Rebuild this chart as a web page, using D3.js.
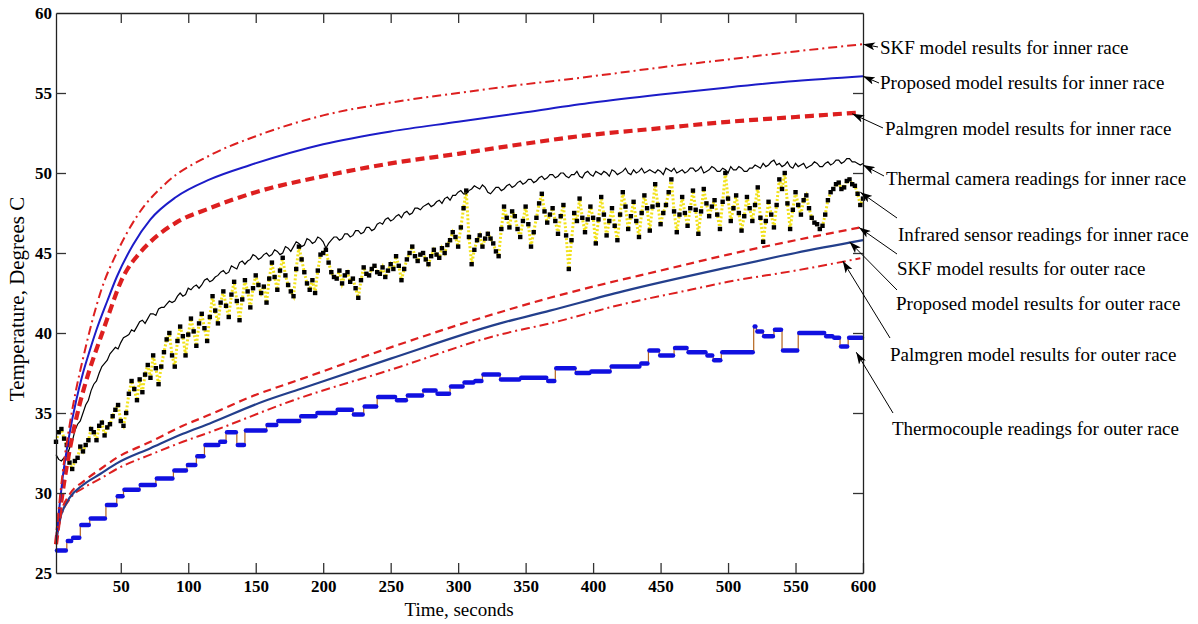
<!DOCTYPE html>
<html>
<head>
<meta charset="utf-8">
<script src="https://cdn.jsdelivr.net/npm/d3@7"></script>
<style>
  body { margin: 0; background: #fff; }
  text { font-family: "Liberation Serif", "Times New Roman", serif; }
</style>
</head>
<body>
<svg id="chart" width="1198" height="624"></svg>
<script>
// ---- Model results (time s, temperature °C) ----
const skfInnerT = [2,5,7,12,17,22,29,36,47,62,84,116,150,200,250,300,331,400,450,500,550,600];
const skfInnerV = [27,29.8,31.3,34.2,36.5,38.4,40.8,42.8,45,47.3,49.4,51.1,52.3,53.6,54.4,55.0,55.35,56.05,56.6,57.1,57.6,58.05];

const propInnerT = [2,5,7,12,17,22,27,32,40,47,59,72,91,116,146,200,250,300,350,400,450,500,550,600];
const propInnerV = [27,29.5,31,33.7,35.8,37.5,38.9,40.2,42,43.5,45.5,47.1,48.5,49.6,50.5,51.8,52.6,53.2,53.8,54.4,54.9,55.35,55.75,56.05];

const palmInnerT = [2,6,10,15,20,25,30,35,40,45,50,55,62,72,91,116,150,200,250,300,331,400,450,500,550,596];
const palmInnerV = [26.8,29.5,31.7,33.9,35.7,37.2,38.5,39.7,40.9,42.1,43.2,44.0,44.8,45.7,46.9,47.8,48.8,49.8,50.6,51.2,51.6,52.4,52.8,53.2,53.5,53.77];

const skfOuterT = [2,5,12,22,35,47,72,96,116,146,183,250,300,331,368,400,450,500,550,598];
const skfOuterV = [26.8,28.5,29.9,30.7,31.5,32.2,33.2,34.2,34.9,36.0,37.1,39.1,40.5,41.3,42.2,42.9,43.9,44.9,45.8,46.6];

const propOuterT = [2,5,8,12,22,35,47,72,96,116,155,183,250,331,368,422,500,550,600];
const propOuterV = [26.8,28.4,29.1,29.7,30.5,31.2,31.85,32.8,33.7,34.35,35.7,36.5,38.4,40.6,41.4,42.6,44.1,45.0,45.8];

const palmOuterT = [2,5,12,22,35,47,72,96,116,178,250,331,368,422,472,500,550,598];
const palmOuterV = [26.8,28.3,29.6,30.3,30.9,31.5,32.4,33.2,33.8,35.8,37.7,39.9,40.6,41.8,42.7,43.2,43.9,44.67];

// ---- Measurements, sampled every 2 s from t = 2 s (one row = 40 s) ----
const sampleStart = 2, sampleStep = 2;
const thermalCamera = [
  32.4, 32.1, 32.0, 32.2, 32.3, 32.8, 33.2, 33.9, 34.3, 34.5, 35.0, 35.5, 35.8, 36.4, 36.8, 37.0, 37.5, 37.9, 38.1, 38.3,
  38.7, 38.9, 39.1, 39.0, 39.4, 39.7, 39.8, 39.9, 40.2, 40.1, 40.4, 40.7, 40.8, 40.6, 40.9, 41.2, 41.2, 41.1, 41.5, 41.6,
  41.6, 41.8, 42.0, 41.9, 42.0, 42.3, 42.5, 42.3, 42.4, 42.8, 42.7, 42.9, 43.0, 42.8, 43.0, 43.3, 43.4, 43.2, 43.3, 43.5,
  43.6, 43.8, 43.9, 43.7, 43.8, 44.2, 44.1, 44.0, 44.4, 44.5, 44.3, 44.5, 44.6, 44.9, 44.8, 44.6, 44.7, 44.9, 45.0, 44.8,
  44.9, 45.2, 45.1, 44.9, 45.0, 45.4, 45.3, 45.1, 45.4, 45.7, 45.6, 45.4, 45.5, 45.9, 45.8, 45.6, 45.7, 46.0, 45.9, 45.7,
  45.3, 45.6, 45.8, 46.0, 46.0, 45.8, 45.9, 46.2, 46.2, 46.0, 46.1, 46.4, 46.4, 46.2, 46.3, 46.6, 46.6, 46.4, 46.5, 46.8,
  46.9, 46.8, 47.1, 47.2, 47.0, 47.1, 47.3, 47.4, 47.2, 47.5, 47.6, 47.4, 47.5, 47.8, 47.8, 47.7, 47.9, 48.0, 48.1, 47.9,
  48.0, 48.2, 48.3, 48.1, 48.4, 48.5, 48.3, 48.6, 48.6, 48.8, 48.9, 48.7, 48.7, 48.9, 49.0, 49.2, 49.1, 49.0, 49.25, 49.1,
  48.8, 48.7, 48.9, 49.1, 49.1, 48.9, 49.0, 49.2, 49.3, 49.1, 49.2, 49.4, 49.5, 49.3, 49.4, 49.6, 49.6, 49.4, 49.5, 49.7,
  49.8, 49.6, 49.7, 49.9, 49.9, 49.7, 49.8, 50.0, 50.0, 49.8, 49.7, 49.9, 49.9, 50.1, 49.8, 49.7, 50.0, 50.1, 49.9, 49.8,
  50.1, 50.0, 49.9, 50.1, 50.0, 49.8, 50.2, 50.1, 49.9, 50.0, 50.1, 50.3, 50.0, 49.9, 50.2, 50.0, 50.1, 50.3, 50.0, 50.1,
  50.2, 50.1, 50.0, 50.2, 50.1, 49.9, 50.3, 50.2, 50.1, 50.3, 50.0, 50.1, 50.2, 50.0, 50.1, 50.3, 50.3, 50.1, 50.2, 50.4,
  50.0, 50.1, 50.2, 50.4, 50.3, 50.1, 50.1, 50.3, 50.2, 50.0, 50.4, 50.2, 50.2, 50.4, 50.3, 50.1, 50.1, 50.3, 50.3, 50.5,
  50.4, 50.3, 50.6, 50.4, 50.5, 50.7, 50.8, 50.5, 50.6, 50.4, 50.5, 50.7, 50.4, 50.3, 50.6, 50.4, 50.5, 50.6, 50.3, 50.4,
  50.5, 50.7, 50.6, 50.4, 50.4, 50.6, 50.7, 50.5, 50.6, 50.8, 50.8, 50.6, 50.7, 50.9, 50.9, 50.7, 50.7, 50.6, 50.5, 50.6
];
const infraredSensor = [
  33.2, 33.8, 34.0, 33.4, 33.0, 31.9, 31.5, 32.0, 32.2, 32.9, 32.6, 33.0, 33.3, 34.0, 33.8, 33.3, 34.2, 34.4, 33.6, 34.1,
  34.3, 34.8, 35.2, 35.5, 34.5, 34.2, 35.0, 36.2, 37.0, 36.5, 35.8, 37.1, 36.3, 37.4, 38.0, 37.2, 38.6, 37.8, 36.8, 37.9,
  38.8, 39.6, 40.0, 38.6, 37.9, 39.5, 40.4, 39.8, 38.6, 39.9, 40.9, 40.1, 39.2, 40.6, 41.2, 40.3, 39.5, 41.0, 42.3, 41.4,
  40.6, 41.9, 42.6, 41.7, 41.0, 42.4, 43.2, 42.0, 40.8, 42.1, 43.3, 42.6, 41.6, 42.8, 43.6, 43.0, 42.5, 42.9, 41.9, 43.4,
  44.4, 43.5, 42.7, 43.9, 44.7, 43.6, 43.0, 42.6, 42.3, 44.0, 45.4, 44.6, 43.8, 43.1, 42.7, 43.3, 42.5, 43.9, 44.9, 45.0,
  45.2, 44.4, 43.8, 43.5, 43.4, 43.9, 43.1, 43.6, 43.8, 43.2, 43.4, 42.8, 42.2, 43.3, 44.1, 43.7, 43.6, 44.0, 44.2, 43.8,
  43.7, 44.1, 43.5, 43.9, 44.3, 44.0, 44.8, 44.2, 43.3, 44.0, 44.6, 45.0, 45.4, 44.8, 44.5, 44.9, 45.0, 44.6, 44.3, 44.8,
  45.2, 44.9, 44.7, 45.3, 45.0, 45.5, 45.8, 46.3, 46.0, 45.4, 46.6, 47.8, 48.9, 46.0, 44.3, 45.2, 45.8, 46.1, 45.4, 45.9,
  46.2, 45.9, 45.6, 45.1, 44.8, 46.5, 47.9, 47.2, 46.6, 47.6, 47.3, 46.5, 46.0, 47.0, 47.9, 46.8, 45.4, 46.3, 47.2, 48.1,
  48.7, 47.6, 46.9, 47.4, 47.8, 47.0, 46.2, 47.3, 48.0, 46.1, 44.0, 45.8, 47.5, 47.0, 48.4, 47.2, 46.3, 47.1, 47.9, 47.2,
  45.6, 47.1, 48.5, 47.4, 46.1, 47.0, 47.8, 46.7, 45.8, 47.4, 48.8, 47.9, 46.5, 47.3, 48.2, 47.0, 46.0, 47.5, 48.6, 47.8,
  46.4, 47.9, 49.3, 48.0, 46.8, 47.5, 48.0, 48.8, 49.6, 47.6, 46.3, 47.4, 48.5, 47.5, 46.7, 47.8, 48.9, 47.7, 46.2, 47.6,
  49.0, 48.1, 47.3, 47.9, 48.3, 47.4, 46.5, 48.2, 50.0, 48.4, 47.0, 47.8, 48.6, 47.5, 46.4, 47.3, 48.5, 47.8, 47.0, 48.0,
  49.1, 47.2, 45.7, 47.0, 48.2, 47.4, 46.6, 48.0, 49.6, 49.0, 50.0, 48.1, 46.5, 47.7, 48.8, 48.0, 47.4, 48.3, 48.6, 47.8,
  47.2, 46.9, 46.8, 46.5, 46.7, 47.4, 48.3, 48.8, 49.0, 49.3, 49.4, 49.0, 49.1, 49.5, 49.6, 49.3, 49.2, 48.7, 48.0, 48.4
];

// Thermocouple: each level holds from its start time until the next start
const thermoStart = [2,10,14,20,27,39,47,52,64,76,89,99,106,112,123,128,136,142,158,166,183,195,210,222,230,240,254,262,274,284,294,304,312,318,331,346,366,372,387,398,413,435,441,449,460,470,484,489,495,519,521,526,534,540,552,572,578,583,589];
const thermoTemp  = [26.4,27.0,27.2,28.0,28.4,29.25,29.8,30.2,30.5,30.9,31.4,31.75,32.3,33.0,33.2,33.8,33.0,33.9,34.25,34.5,34.8,35.0,35.2,34.9,35.4,36.0,35.8,36.1,36.4,36.2,36.65,36.9,37.0,37.4,37.1,37.2,37.0,37.8,37.5,37.6,37.9,38.1,38.9,38.6,39.06,38.8,38.6,38.3,38.8,40.4,40.1,39.8,40.2,38.9,40.0,39.8,39.7,39.15,39.7];
const thermoEnd = 600;

// Axis ticks
const xTicks = [50,100,150,200,250,300,350,400,450,500,550,600];
const yTicks = [25,30,35,40,45,50,55,60];

// Annotation labels and the [time, temperature] each arrow points at
const labelText = [
  "SKF model results for inner race",
  "Proposed model results for inner race",
  "Palmgren model results for inner race",
  "Thermal camera readings for inner race",
  "Infrared sensor readings for inner race",
  "SKF model results for outer race",
  "Proposed model results for outer race",
  "Palmgren model results for outer race",
  "Thermocouple readings for outer race"
];
const labelTarget = [[600,58.05],[600,56.05],[592,53.7],[600,50.5],[598,48.8],[597,46.6],[590,45.7],[585,44.5],[595,38.8]];

// ---- Layout ----
const svg = d3.select("#chart");
const mLeft = 56, mRight = 863, mTop = 13, mBottom = 573;
const x = d3.scaleLinear().domain([2, 600]).range([mLeft, mRight]);
const y = d3.scaleLinear().domain([25, 60]).range([mBottom, mTop]);

const RED = "#dd1f1f", BLUE = "#1c1cc8", NAVY = "#233f8c";

const line = d3.line().x(d => x(d[0])).y(d => y(d[1])).curve(d3.curveMonotoneX);
const zip = (ts, vs) => ts.map((t, i) => [t, vs[i]]);
const sampled = vs => vs.map((v, i) => [sampleStart + i * sampleStep, v]);

const plot = svg.append("g");

// thermocouple: thin brown risers with thick blue levels
const thermoSteps = thermoStart.map((t, i) => [t, i + 1 < thermoStart.length ? thermoStart[i + 1] : thermoEnd, thermoTemp[i]]);
const stepPts = thermoStart.map((t, i) => [t, thermoTemp[i]]).concat([[thermoEnd, thermoTemp[thermoTemp.length - 1]]]);
plot.append("path")
  .attr("d", d3.line().x(d => x(d[0])).y(d => y(d[1])).curve(d3.curveStepAfter)(stepPts))
  .attr("fill", "none").attr("stroke", "#b5651d").attr("stroke-width", 1.2);
plot.selectAll("line.tc").data(thermoSteps).join("line")
  .attr("class", "tc")
  .attr("x1", d => x(d[0]) + 1).attr("x2", d => x(d[1]) - 1)
  .attr("y1", d => y(d[2])).attr("y2", d => y(d[2]))
  .attr("stroke", "#1010e0").attr("stroke-width", 4.5).attr("stroke-linecap", "round");

// outer race models
plot.append("path").attr("d", line(zip(palmOuterT, palmOuterV)))
  .attr("fill", "none").attr("stroke", RED).attr("stroke-width", 2).attr("stroke-dasharray", "9,4,2,4");
plot.append("path").attr("d", line(zip(propOuterT, propOuterV)))
  .attr("fill", "none").attr("stroke", NAVY).attr("stroke-width", 2.2);
plot.append("path").attr("d", line(zip(skfOuterT, skfOuterV)))
  .attr("fill", "none").attr("stroke", RED).attr("stroke-width", 2.2).attr("stroke-dasharray", "8,5");

// infrared sensor readings: yellow dotted line with black markers
const irPts = sampled(infraredSensor);
plot.append("path")
  .attr("d", d3.line().x(d => x(d[0])).y(d => y(d[1]))(irPts))
  .attr("fill", "none").attr("stroke", "#f2e21a").attr("stroke-width", 3).attr("stroke-dasharray", "2,2");
plot.selectAll("rect.ir").data(irPts).join("rect")
  .attr("class", "ir")
  .attr("x", d => x(d[0]) - 2.2).attr("y", d => y(d[1]) - 2.2)
  .attr("width", 4.4).attr("height", 4.4).attr("fill", "#000");

// thermal camera readings
plot.append("path")
  .attr("d", d3.line().x(d => x(d[0])).y(d => y(d[1]))(sampled(thermalCamera)))
  .attr("fill", "none").attr("stroke", "#000").attr("stroke-width", 1.2);

// inner race models
plot.append("path").attr("d", line(zip(palmInnerT, palmInnerV)))
  .attr("fill", "none").attr("stroke", RED).attr("stroke-width", 4.2).attr("stroke-dasharray", "9,5");
plot.append("path").attr("d", line(zip(propInnerT, propInnerV)))
  .attr("fill", "none").attr("stroke", BLUE).attr("stroke-width", 2);
plot.append("path").attr("d", line(zip(skfInnerT, skfInnerV)))
  .attr("fill", "none").attr("stroke", RED).attr("stroke-width", 2).attr("stroke-dasharray", "9,4,2,4");

// ---- Axes: box with inward ticks ----
const axisStyle = g => {
  g.selectAll(".domain").attr("stroke", "#222").attr("stroke-width", 1.3);
  g.selectAll(".tick line").attr("stroke", "#333").attr("stroke-width", 1.3);
  g.selectAll("text").attr("font-family", "'Liberation Serif', serif")
    .attr("font-weight", "bold").attr("font-size", 17).attr("fill", "#000");
};
svg.append("g").attr("transform", `translate(0,${mBottom})`)
  .call(d3.axisBottom(x).tickValues(xTicks).tickSizeInner(-10).tickSizeOuter(0).tickPadding(7))
  .call(axisStyle);
svg.append("g").attr("transform", `translate(0,${mTop})`)
  .call(d3.axisTop(x).tickValues(xTicks.slice(0, -1)).tickSizeInner(-10).tickSizeOuter(0).tickFormat(""))
  .call(axisStyle);
svg.append("g").attr("transform", `translate(${mLeft},0)`)
  .call(d3.axisLeft(y).tickValues(yTicks).tickSizeInner(-10).tickSizeOuter(0).tickPadding(4))
  .call(axisStyle)
  .call(g => g.selectAll(".tick line").filter(d => d === 25 || d === 60).remove());
svg.append("g").attr("transform", `translate(${mRight},0)`)
  .call(d3.axisRight(y).tickValues(yTicks.slice(1, -1)).tickSizeInner(-10).tickSizeOuter(0).tickFormat(""))
  .call(axisStyle);

// axis titles
svg.append("text").attr("x", 459).attr("y", 616).attr("text-anchor", "middle")
  .attr("font-size", 19).text("Time, seconds");
svg.append("text").attr("transform", "translate(24,299) rotate(-90)").attr("text-anchor", "middle")
  .attr("font-size", 21).text("Temperature, Degrees C");

// ---- Annotations ----
svg.append("defs").append("marker")
  .attr("id", "head").attr("viewBox", "0 0 12 8").attr("refX", 12).attr("refY", 4)
  .attr("markerWidth", 12).attr("markerHeight", 8).attr("markerUnits", "userSpaceOnUse")
  .attr("orient", "auto")
  .append("path").attr("d", "M0,0 L12,4 L0,8 L3,4 Z").attr("fill", "#000");

const labelX = [880, 880, 885, 886, 898, 897, 896, 890, 892];
const labelY = [47, 82, 128, 178, 234, 268, 303, 354, 428];
const tailX  = [878, 879, 883, 884, 897, 897, 897, 890, 893];
const tailY  = [47, 83, 128, 176, 218, 254, 290, 338, 413];

const ann = svg.append("g");
labelText.forEach((txt, i) => {
  ann.append("line")
    .attr("x1", tailX[i]).attr("y1", tailY[i])
    .attr("x2", x(labelTarget[i][0])).attr("y2", y(labelTarget[i][1]))
    .attr("stroke", "#000").attr("stroke-width", 1).attr("marker-end", "url(#head)");
  ann.append("text").attr("x", labelX[i]).attr("y", labelY[i]).attr("dy", "0.35em")
    .attr("font-size", 19).attr("fill", "#000").text(txt);
});
</script>
</body>
</html>
